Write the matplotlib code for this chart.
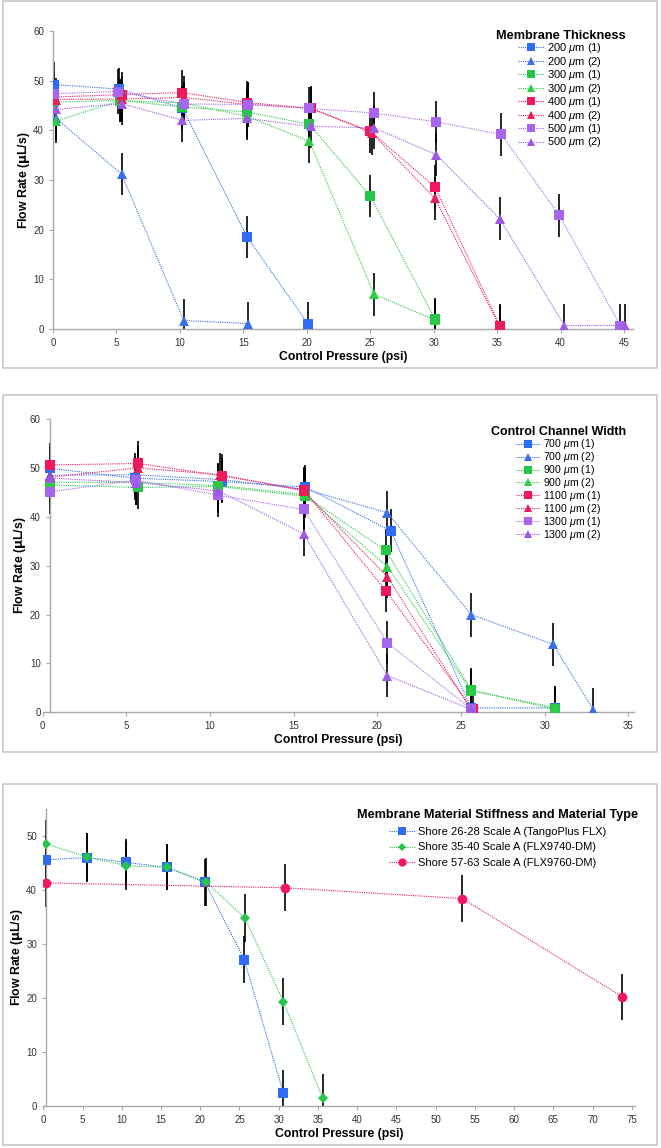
import matplotlib
matplotlib.use("Agg")
import matplotlib.pyplot as plt
from matplotlib.patches import Rectangle

plt.rcParams['font.family'] = ['Liberation Sans', 'DejaVu Sans']
plt.rcParams['mathtext.fontset'] = 'custom'
plt.rcParams['mathtext.it'] = 'Liberation Sans:italic'

W, H = 661, 1148

# ---- panel 1: membrane thickness ----
thick_labels = [r"200 $\mu$m (1)", r"200 $\mu$m (2)", r"300 $\mu$m (1)", r"300 $\mu$m (2)",
                r"400 $\mu$m (1)", r"400 $\mu$m (2)", r"500 $\mu$m (1)", r"500 $\mu$m (2)"]
thick_x = [
    [0.1, 5.2, 10.2, 15.3, 20.1],
    [0.2, 5.4, 10.3, 15.4],
    [0.1, 5.3, 10.2, 15.3, 20.2, 25.0, 30.1],
    [0.2, 5.3, 10.3, 15.3, 20.2, 25.3, 30.1],
    [0.1, 5.4, 10.2, 15.3, 20.3, 25.0, 30.1, 35.2],
    [0.2, 5.4, 10.3, 15.4, 20.3, 25.1, 30.1, 35.2],
    [0.1, 5.1, 10.3, 15.4, 20.2, 25.3, 30.2, 35.3, 39.9, 44.7],
    [0.2, 5.4, 10.2, 15.3, 20.3, 25.3, 30.2, 35.2, 40.3, 45.1],
]
thick_y = [
    [49.2, 48.3, 44.5, 18.5, 1.0],
    [42.5, 31.2, 1.7, 1.1],
    [45.7, 46.0, 44.7, 43.7, 41.2, 26.8, 2.0],
    [41.8, 46.0, 45.5, 42.8, 37.8, 7.0, 1.8],
    [46.7, 47.2, 47.6, 45.6, 44.4, 39.8, 28.6, 0.7],
    [46.2, 46.3, 46.6, 45.2, 44.5, 39.5, 26.3, 0.5],
    [47.4, 47.8, 45.3, 45.2, 44.4, 43.5, 41.7, 39.2, 22.9, 0.7],
    [44.2, 45.4, 42.0, 42.4, 40.8, 40.5, 35.1, 22.2, 0.7, 0.7],
]
thick_err = [
    [4.5, 4.3, 4.4, 4.3, 4.4],
    [4.4, 4.3, 4.4, 4.4],
    [4.3, 4.4, 4.3, 4.4, 4.3, 4.3, 4.3],
    [4.3, 4.4, 4.3, 4.4, 4.3, 4.3, 4.3],
    [4.4, 4.6, 4.5, 4.4, 4.4, 4.4, 4.4, 4.3],
    [4.3, 4.4, 4.3, 4.5, 4.4, 4.4, 4.3, 4.3],
    [4.6, 4.5, 4.3, 4.5, 4.4, 4.3, 4.3, 4.3, 4.3, 4.3],
    [4.4, 4.3, 4.3, 4.3, 4.3, 4.3, 4.3, 4.3, 4.3, 4.3],
]

# ---- panel 2: control channel width ----
width_labels = [r"700 $\mu$m (1)", r"700 $\mu$m (2)", r"900 $\mu$m (1)", r"900 $\mu$m (2)",
                r"1100 $\mu$m (1)", r"1100 $\mu$m (2)", r"1300 $\mu$m (1)", r"1300 $\mu$m (2)"]
width_x = [
    [0.45, 5.5, 10.7, 15.7, 20.8, 25.6, 30.6],
    [0.45, 5.5, 10.7, 15.7, 20.6, 25.6, 30.5, 32.9],
    [0.45, 5.7, 10.5, 15.7, 20.5, 25.6, 30.6],
    [0.45, 5.6, 10.5, 15.6, 20.6, 25.6, 30.6],
    [0.45, 5.7, 10.7, 15.6, 20.5, 25.7],
    [0.45, 5.7, 10.6, 15.6, 20.6, 25.6],
    [0.45, 5.6, 10.5, 15.6, 20.6, 25.6],
    [0.45, 5.6, 10.5, 15.6, 20.6, 25.6],
]
width_y = [
    [49.9, 47.9, 47.2, 46.1, 37.1, 0.9, 0.9],
    [48.5, 48.6, 47.6, 45.6, 40.8, 20.0, 13.9, 0.5],
    [46.5, 46.0, 46.2, 44.2, 33.1, 4.6, 0.6],
    [47.1, 47.0, 46.4, 44.6, 29.8, 4.4, 1.0],
    [50.6, 50.9, 48.4, 45.5, 24.9, 0.6],
    [48.1, 50.0, 48.6, 45.3, 27.7, 0.5],
    [45.1, 47.5, 44.4, 41.5, 14.2, 0.7],
    [47.9, 47.0, 45.3, 36.5, 7.5, 0.6],
]
width_err = [
    [4.6, 4.5, 4.4, 4.5, 4.4, 4.4, 4.4],
    [4.5, 4.5, 4.5, 4.5, 4.5, 4.5, 4.4, 4.5],
    [4.5, 4.5, 4.5, 4.4, 4.4, 4.4, 4.4],
    [4.5, 4.5, 4.5, 4.4, 4.4, 4.4, 4.4],
    [4.5, 4.5, 4.5, 4.6, 4.4, 4.4],
    [4.5, 4.5, 4.5, 4.5, 4.4, 4.4],
    [4.5, 4.5, 4.5, 4.5, 4.4, 4.4],
    [4.5, 4.5, 4.5, 4.5, 4.4, 4.4],
]

# ---- panel 3: membrane material ----
mat_labels = ["Shore 26-28 Scale A (TangoPlus FLX)", "Shore 35-40 Scale A (FLX9740-DM)",
              "Shore 57-63 Scale A (FLX9760-DM)"]
mat_x = [
    [0.4, 5.6, 10.6, 15.7, 20.6, 25.6, 30.6],
    [0.4, 5.6, 10.6, 15.7, 20.7, 25.7, 30.6, 35.6],
    [0.4, 30.8, 53.4, 73.8],
]
mat_y = [
    [45.6, 46.0, 45.1, 44.2, 41.4, 27.1, 2.3],
    [48.5, 46.1, 44.5, 44.2, 41.5, 34.8, 19.3, 1.4],
    [41.3, 40.4, 38.4, 20.2],
]
mat_err = [
    [4.4, 4.5, 4.4, 4.3, 4.4, 4.3, 4.4],
    [4.5, 4.5, 4.5, 4.3, 4.4, 4.4, 4.4, 4.4],
    [4.4, 4.4, 4.4, 4.3],
]

BLUE, BLUE2 = '#2f6cf4', '#3b6fe8'
GREEN, GREEN2 = '#25c64a', '#2fcc45'
RED, RED2 = '#f2185e', '#e8205a'
PURPLE, PURPLE2 = '#a866f0', '#9c5ae4'
eight_colors = [BLUE, BLUE2, GREEN, GREEN2, RED, RED2, PURPLE, PURPLE2]
eight_markers = ['s', '^', 's', '^', 's', '^', 's', '^']

fig = plt.figure(figsize=(W / 100, H / 100), dpi=100)


def ax_px(l, t, r, b):
    return fig.add_axes([l / W, 1 - b / H, (r - l) / W, (b - t) / H])


def box_px(l, t, r, b):
    fig.patches.append(Rectangle((l / W, 1 - b / H), (r - l) / W, (b - t) / H,
                                 transform=fig.transFigure, fill=False,
                                 edgecolor='#c8c8c8', linewidth=1.2))


def style(ax, yspine_at=None):
    for s in ['top', 'right']:
        ax.spines[s].set_visible(False)
    for s in ['left', 'bottom']:
        ax.spines[s].set_color('#a8a8a8')
        ax.spines[s].set_linewidth(1.0)
    if yspine_at is not None:
        ax.spines['left'].set_position(('data', yspine_at))
    ax.tick_params(colors='#a8a8a8', labelcolor='#333333', labelsize=7, length=3, width=0.8)
    ax.set_ylabel(r"Flow Rate ($\mathbf{\mu}$L/s)", fontsize=8.8, fontweight='bold', labelpad=1)
    ax.set_xlabel("Control Pressure (psi)", fontsize=8.8, fontweight='bold', labelpad=2)


def draw(ax, xs, ys, errs, labels, colors, markers, ms):
    for x, y, e, lab, c, m, s in zip(xs, ys, errs, labels, colors, markers, ms):
        ax.errorbar(x, y, yerr=e, fmt='none', ecolor='black', elinewidth=1.2, capsize=0, zorder=2)
        ax.plot(x, y, linestyle=(0, (1, 1)), linewidth=0.8, color=c, marker=m, markersize=s,
                markeredgewidth=0, label=lab, zorder=3)


def legend(ax, title, anchor, tsize, spacing, fsize=8):
    leg = ax.legend(loc='upper right', bbox_to_anchor=anchor, frameon=False, fontsize=fsize,
                    title=title, handlelength=2.3, labelspacing=spacing, markerscale=0.85,
                    handletextpad=0.3, borderpad=0.2)
    leg.get_title().set_fontweight('bold')
    leg.get_title().set_fontsize(tsize)


# panel 1
box_px(3, 1, 657, 368)
ax1 = ax_px(53, 31, 633, 329)
draw(ax1, thick_x, thick_y, thick_err, thick_labels, eight_colors, eight_markers,
     [7, 6.5] * 4)
ax1.set_xlim(0, 45.7)
ax1.set_ylim(0, 60)
ax1.set_xticks(range(0, 50, 5))
ax1.set_yticks(range(0, 70, 10))
style(ax1)
legend(ax1, "Membrane Thickness", (1.0, 1.03), 9.2, -0.05)

# panel 2
box_px(3, 395, 657, 752)
ax2 = ax_px(42.6, 419, 633.5, 712.3)
draw(ax2, width_x, width_y, width_err, width_labels, eight_colors, eight_markers,
     [7, 6.5] * 4)
ax2.set_xlim(0, 35.3)
ax2.set_ylim(0, 60)
ax2.set_xticks(range(0, 40, 5))
ax2.set_yticks(range(0, 70, 10))
style(ax2, 0.42)
legend(ax2, "Control Channel Width", (1.0, 1.0), 9, -0.1, fsize=7.6)

# panel 3
box_px(3, 784, 657, 1145)
ax3 = ax_px(43.3, 809, 635, 1105.7)
draw(ax3, mat_x, mat_y, mat_err, mat_labels, [BLUE, GREEN, RED], ['s', 'D', 'o'], [7, 5, 7])
ax3.set_xlim(0, 75.4)
ax3.set_ylim(0, 55)
ax3.set_xticks(range(0, 80, 5))
ax3.set_yticks(range(0, 60, 10))
style(ax3, 0.35)
legend(ax3, "Membrane Material Stiffness and Material Type", (1.019, 1.025), 9.1, 0.5)

fig.savefig("out.png", dpi=100)
